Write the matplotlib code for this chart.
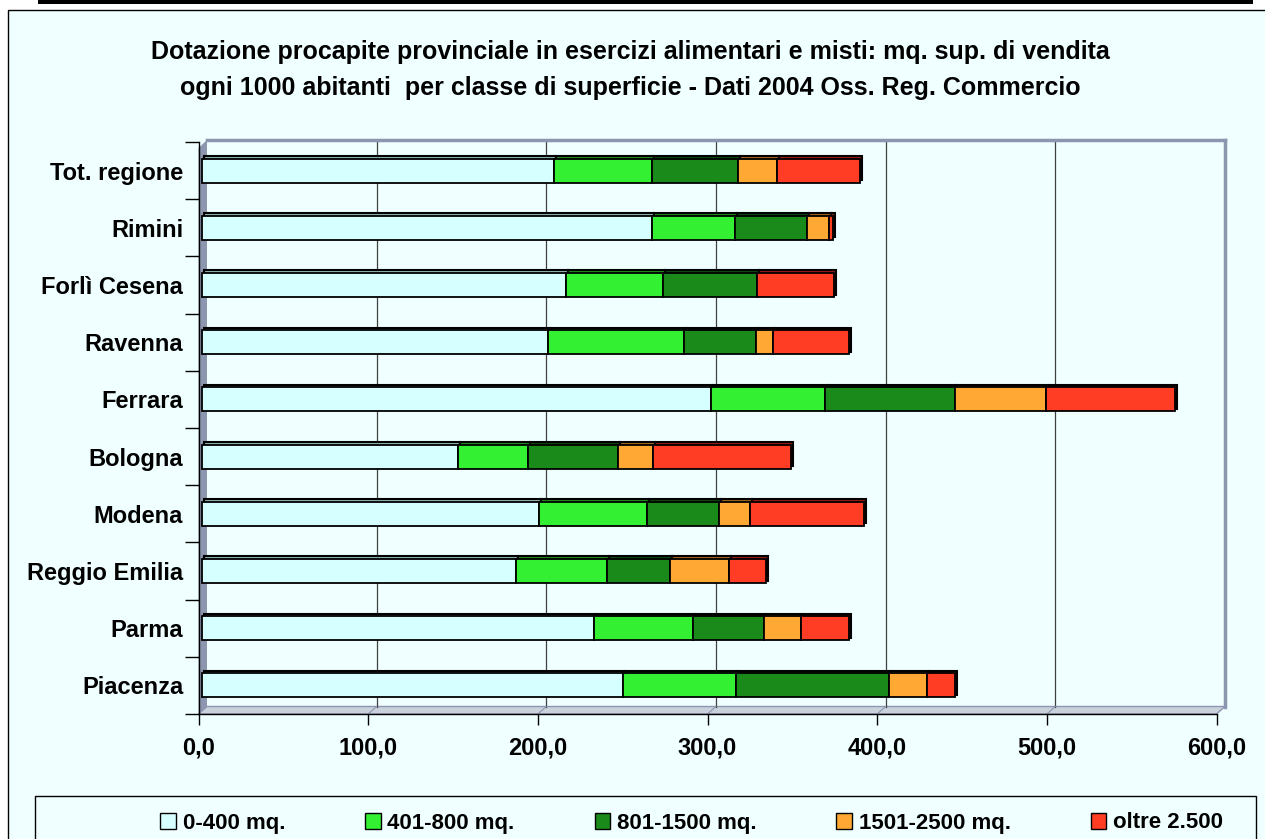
import numpy as np
import matplotlib.pyplot as plt
from matplotlib import transforms
from matplotlib.patches import Rectangle, Polygon

plt.rcParams['font.family'] = ['Liberation Sans', 'DejaVu Sans']
plt.rcParams['font.weight'] = 'bold'

# data, bottom row first
categories = ['Piacenza', 'Parma', 'Reggio Emilia', 'Modena', 'Bologna',
              'Ferrara', 'Ravenna', 'Forlì Cesena', 'Rimini', 'Tot. regione']
classes = ['0-400 mq.', '401-800 mq.', '801-1500 mq.', '1501-2500 mq.', 'oltre 2.500']
s_0_400 = [248.3, 231.5, 185.3, 198.8, 151.0, 300.3, 204.4, 215.0, 265.5, 207.7]
s_401_800 = [66.5, 58.4, 53.7, 63.7, 41.3, 67.3, 80.2, 57.0, 49.2, 57.8]
s_801_1500 = [90.2, 41.8, 37.0, 42.5, 53.4, 76.4, 42.5, 55.5, 42.3, 50.5]
s_1501_2500 = [22.4, 21.8, 34.8, 18.0, 20.7, 54.0, 10.0, 0.0, 13.0, 23.0]
s_oltre = [16.6, 28.3, 21.8, 67.6, 81.1, 75.8, 44.7, 45.5, 2.0, 49.0]
series = [s_0_400, s_401_800, s_801_1500, s_1501_2500, s_oltre]
colors = ['#D6FFFF', '#33F033', '#1A8A1A', '#FFA833', '#FF3D24']
shades = ['#8FB4B4', '#1E8C1E', '#0B4A0B', '#A0661C', '#9A1A10']
x_ticks = [0, 100, 200, 300, 400, 500, 600]

W, H = 1265, 839
BG = '#F0FFFF'
WALL = '#8C96AE'


def fx(x):
    return x / W


def fy(y):
    return 1 - y / H


def fpoly(pts, **kw):
    return Polygon([(fx(a), fy(b)) for a, b in pts], closed=True,
                   transform=fig.transFigure, **kw)


fig = plt.figure(figsize=(W / 100, H / 100), dpi=100, facecolor='white')

# chart area + top rule
fig.add_artist(Rectangle((fx(8), fy(850)), fx(1300), fy(10) - fy(850),
                         transform=fig.transFigure, facecolor=BG,
                         edgecolor='black', lw=1, zorder=-5))
fig.add_artist(Rectangle((fx(38), fy(3.5)), fx(1253) - fx(38), fy(0) - fy(3.5),
                         transform=fig.transFigure, facecolor='black',
                         edgecolor='none', zorder=-5))

# front axes: 0 at x=198.5, 600 at x=1216.5, rows from y=142 to y=714
ax = fig.add_axes([fx(198.5), fy(714), fx(1216.5) - fx(198.5), fy(142) - fy(714)])
ax.set_zorder(5)
ax.set_facecolor('none')
ax.set_xlim(0, 600)
ax.set_ylim(-0.5, len(categories) - 0.5)

# 3D walls (figure level, under the axes)
dx, dy = 8.5, 7.5
span = 714 - 142
top = (714 - 140) / span
bot = dy / span
fig.add_artist(fpoly([(198.5, 714), (198.5 + dx, 714 - dy), (1216.5 + dx, 714 - dy),
                      (1216.5, 714)], facecolor='#C9D1DD', edgecolor=WALL,
                     lw=1, zorder=-2))
fig.add_artist(fpoly([(198.5, 148), (198.5 + dx, 140), (198.5 + dx, 714 - dy),
                      (198.5, 714)], facecolor=WALL, edgecolor='none', zorder=-2))
back = transforms.offset_copy(ax.transData, fig=fig, x=dx, y=0, units='dots')
grid_tr = transforms.blended_transform_factory(back, ax.transAxes)
for v in x_ticks[1:-1]:
    ax.plot([v, v], [bot, top], transform=grid_tr, color='#404040', lw=0.9,
            zorder=1, clip_on=False)
ax.plot([600, 600], [bot, top], transform=grid_tr, color=WALL, lw=2.5,
        zorder=1, clip_on=False)
ax.plot([0, 600], [top, top], transform=grid_tr, color=WALL, lw=2.5,
        zorder=1, clip_on=False)
# grid feet on the floor
for v in x_ticks[1:]:
    x0 = ax.transData.transform((v, 0))[0]
    ax.plot([x0 / W, (x0 + dx) / W], [fy(714), fy(714 - dy)],
            transform=fig.transFigure, color=WALL, lw=0.8, zorder=2)

# bars: darker copy shifted up/right gives the 3D top and side faces
y = np.arange(len(categories))
front = transforms.offset_copy(ax.transData, fig=fig, x=3, y=0, units='dots')
side = transforms.offset_copy(ax.transData, fig=fig, x=5, y=2.5, units='dots')
left = np.zeros(len(categories))
for vals, sh in zip(series, shades):
    vals = np.array(vals)
    m = vals > 0
    ax.barh(y[m], vals[m], left=left[m], height=0.42, color=sh, edgecolor='black',
            lw=1.5, transform=side, zorder=4)
    left += vals
left = np.zeros(len(categories))
for vals, c in zip(series, colors):
    vals = np.array(vals)
    m = vals > 0
    ax.barh(y[m], vals[m], left=left[m], height=0.42, color=c, edgecolor='black',
            lw=1.3, transform=front, zorder=5)
    left += vals

# axes styling
for s in ['top', 'right']:
    ax.spines[s].set_visible(False)
for s in ['left', 'bottom']:
    ax.spines[s].set_color('black')
    ax.spines[s].set_linewidth(1)
    ax.spines[s].set_zorder(6)
ax.set_xticks(x_ticks)
ax.set_xticklabels([f'{v:.1f}'.replace('.', ',') for v in x_ticks],
                   fontsize=17, fontweight='bold')
ax.tick_params(axis='x', direction='out', length=8, width=1, pad=8)
ax.set_yticks(y)
ax.set_yticklabels(categories, fontsize=17, fontweight='bold')
ax.set_yticks(np.arange(-0.5, len(categories)), minor=True)
ax.tick_params(axis='y', which='major', length=0, pad=11)
ax.tick_params(axis='y', which='minor', direction='out', length=10, width=1)

# title
fig.text(fx(630), fy(70), 'Dotazione procapite provinciale in esercizi alimentari e misti: mq. sup. di vendita\n'
         'ogni 1000 abitanti  per classe di superficie - Dati 2004 Oss. Reg. Commercio',
         ha='center', va='center', fontsize=18, fontweight='bold', linespacing=1.6)

# legend
fig.add_artist(Rectangle((fx(35), fy(850)), fx(1256) - fx(35), fy(796) - fy(850),
                         transform=fig.transFigure, facecolor=BG,
                         edgecolor='black', lw=1, zorder=-1))
handles = [Rectangle((0, 0), 1, 1, facecolor=c, edgecolor='black', lw=1) for c in colors]
leg = fig.legend(handles, classes, loc='center right',
                 bbox_to_anchor=(fx(1234), fy(823)), ncol=5, frameon=False,
                 handlelength=0.7, handleheight=0.7, handletextpad=0.3,
                 columnspacing=3.6, borderpad=0, prop={'size': 16, 'weight': 'bold'})

fig.savefig('out.png', dpi=100, facecolor='white')
